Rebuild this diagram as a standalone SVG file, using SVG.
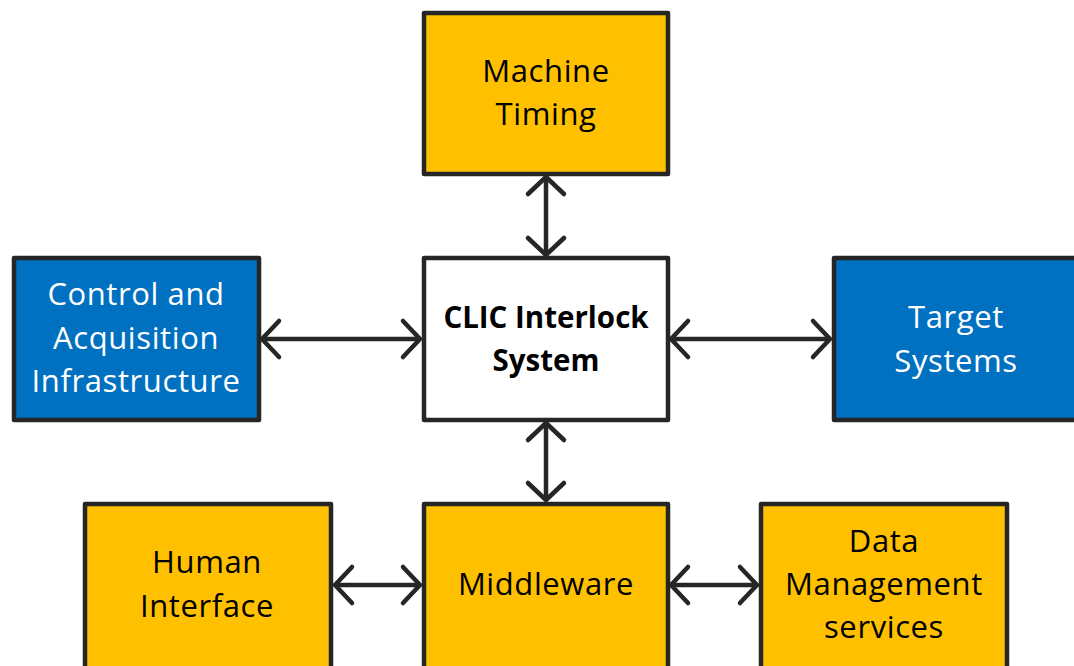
<svg xmlns="http://www.w3.org/2000/svg" width="1074" height="666" viewBox="0 0 1074 666">
<style>
.box{stroke:#262626;stroke-width:4.5;stroke-linejoin:round}
.orange{fill:#FFC000}
.blue{fill:#0070C0}
.white{fill:#FFFFFF}
.t{font-family:"Open Sans","Noto Sans",sans-serif;font-size:31px;letter-spacing:0.6px;text-anchor:middle}
.dark{fill:#000000}
.light{fill:#FFFFFF}
.bold{font-weight:bold;font-size:29.5px;letter-spacing:0px}
.conn{stroke:#262626;stroke-width:4.5;fill:none}
</style>
<defs>
<marker id="ah" markerUnits="userSpaceOnUse" orient="auto-start-reverse" refX="0" refY="0" markerWidth="40" markerHeight="40" overflow="visible">
<path d="M-17,-18 L0,0 L-17,18" fill="none" stroke="#262626" stroke-width="4.5" stroke-linecap="round" stroke-linejoin="round"/>
</marker>
</defs>
<g id="connectors">
<line class="conn" x1="546" y1="177" x2="546" y2="255" marker-start="url(#ah)" marker-end="url(#ah)"/>
<line class="conn" x1="546" y1="423" x2="546" y2="500" marker-start="url(#ah)" marker-end="url(#ah)"/>
<line class="conn" x1="262" y1="339" x2="420" y2="339" marker-start="url(#ah)" marker-end="url(#ah)"/>
<line class="conn" x1="671" y1="339" x2="830" y2="339" marker-start="url(#ah)" marker-end="url(#ah)"/>
<line class="conn" x1="335" y1="585" x2="420" y2="585" marker-start="url(#ah)" marker-end="url(#ah)"/>
<line class="conn" x1="671" y1="585" x2="757" y2="585" marker-start="url(#ah)" marker-end="url(#ah)"/>
</g>
<g id="machine-timing">
<rect class="box orange" x="424" y="13" width="244" height="161"/>
<text class="t dark" x="546" y="82">Machine</text>
<text class="t dark" x="546" y="125">Timing</text>
</g>
<g id="clic">
<rect class="box white" x="424" y="258" width="244" height="162"/>
<text class="t dark bold" x="546" y="328">CLIC Interlock</text>
<text class="t dark bold" x="546" y="371">System</text>
</g>
<g id="control">
<rect class="box blue" x="14" y="258" width="245" height="162"/>
<text class="t light" x="136" y="305">Control and</text>
<text class="t light" x="136" y="349">Acquisition</text>
<text class="t light" x="136" y="392">Infrastructure</text>
</g>
<g id="target">
<rect class="box blue" x="834" y="258" width="250" height="162"/>
<text class="t light" x="956" y="328">Target</text>
<text class="t light" x="956" y="372">Systems</text>
</g>
<g id="human">
<rect class="box orange" x="85" y="504" width="246" height="170"/>
<text class="t dark" x="207" y="573">Human</text>
<text class="t dark" x="207" y="617">Interface</text>
</g>
<g id="middleware">
<rect class="box orange" x="424" y="504" width="244" height="170"/>
<text class="t dark" x="546" y="595">Middleware</text>
</g>
<g id="data">
<rect class="box orange" x="761" y="504" width="246" height="170"/>
<text class="t dark" x="884" y="552">Data</text>
<text class="t dark" x="884" y="595">Management</text>
<text class="t dark" x="884" y="638">services</text>
</g>
</svg>
